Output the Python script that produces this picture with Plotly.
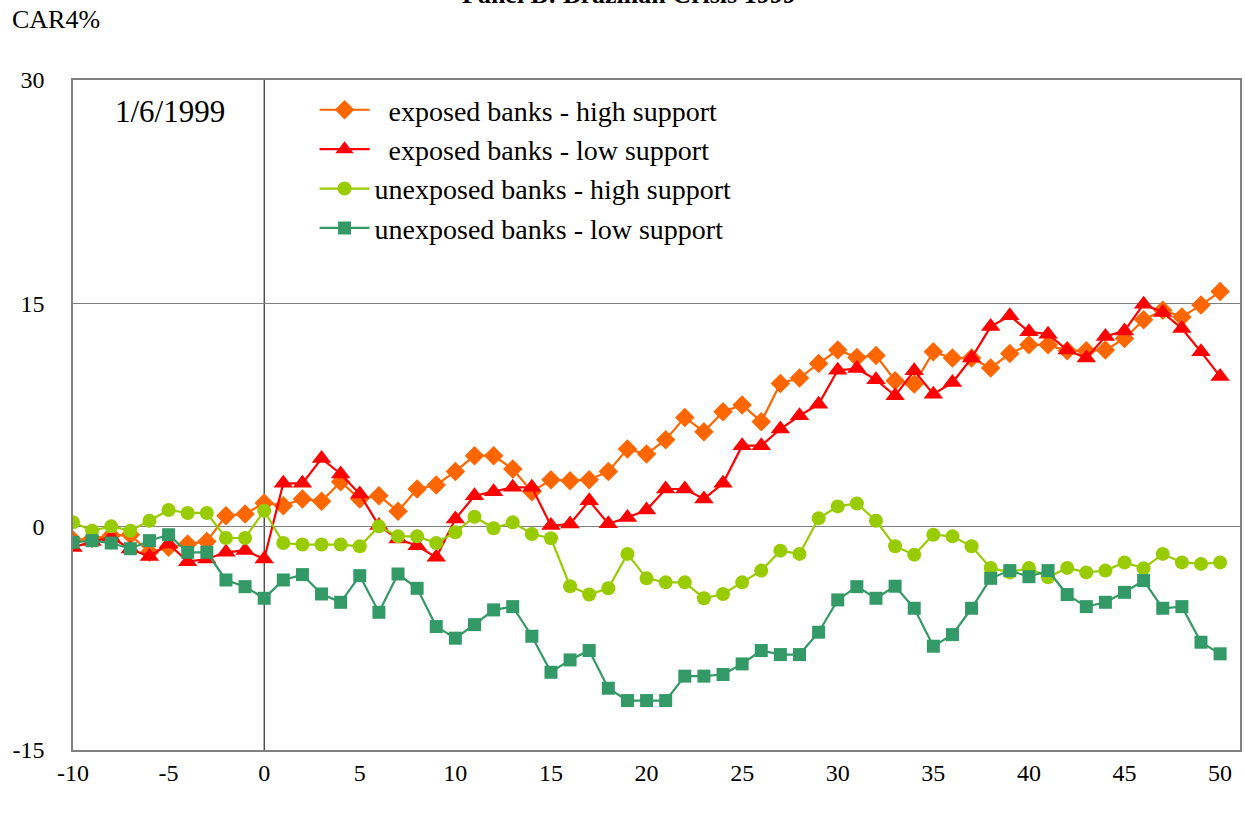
import plotly.graph_objects as go

# event days around 1/6/1999
days = list(range(-10, 51))

exposed_high = [-0.9, -0.8, -0.6, -0.55, -1.72, -1.39, -1.16, -1.0, 0.74, 0.85,
                1.59, 1.41, 1.86, 1.7, 3.02, 1.86, 2.08, 1.03, 2.53, 2.8,
                3.71, 4.77, 4.77, 3.87, 2.35, 3.15, 3.09, 3.15, 3.71, 5.21,
                4.88, 5.84, 7.34, 6.38, 7.72, 8.17, 7.05, 9.62, 9.98, 10.96,
                11.86, 11.37, 11.5, 9.8, 9.58, 11.74, 11.32, 11.32, 10.65, 11.63,
                12.21, 12.21, 11.81, 11.81, 11.86, 12.64, 13.89, 14.54, 14.09, 14.88,
                15.79]

exposed_low = [-1.4, -1.0, -0.72, -1.5, -2.0, -1.16, -2.35, -2.17, -1.72, -1.6,
               -2.17, 2.91, 2.91, 4.58, 3.54, 2.19, 0.07, -0.83, -1.28, -2.06,
               0.51, 2.08, 2.35, 2.64, 2.64, 0.07, 0.18, 1.74, 0.2, 0.62,
               1.12, 2.53, 2.53, 1.86, 2.91, 5.44, 5.44, 6.56, 7.45, 8.23,
               10.51, 10.62, 9.87, 8.79, 10.47, 8.9, 9.68, 11.32, 13.44, 14.16,
               13.09, 12.93, 11.86, 11.32, 12.77, 13.15, 14.94, 14.38, 13.31, 11.74,
               10.09]

unexposed_high = [0.29, -0.27, 0.02, -0.27, 0.4, 1.12, 0.92, 0.92, -0.76, -0.76,
                  1.07, -1.1, -1.2, -1.2, -1.2, -1.32, 0.02, -0.65, -0.65, -1.1,
                  -0.38, 0.67, -0.11, 0.29, -0.49, -0.78, -4.0, -4.56, -4.14, -1.83,
                  -3.47, -3.74, -3.74, -4.81, -4.52, -3.74, -2.95, -1.61, -1.83, 0.56,
                  1.36, 1.56, 0.4, -1.32, -1.88, -0.54, -0.65, -1.32, -2.77, -3.07,
                  -2.77, -3.4, -2.77, -3.07, -2.95, -2.4, -2.8, -1.83, -2.4, -2.5,
                  -2.4]

unexposed_low = [-1.05, -0.94, -1.1, -1.48, -0.94, -0.54, -1.72, -1.72, -3.58, -4.03,
                 -4.81, -3.58, -3.22, -4.52, -5.08, -3.29, -5.75, -3.18, -4.14, -6.71,
                 -7.49, -6.58, -5.59, -5.37, -7.36, -9.78, -8.95, -8.32, -10.85, -11.68,
                 -11.68, -11.68, -10.04, -10.04, -9.93, -9.22, -8.32, -8.59, -8.59, -7.09,
                 -4.92, -4.03, -4.81, -4.0, -5.48, -8.03, -7.25, -5.48, -3.47, -2.95,
                 -3.36, -2.95, -4.56, -5.37, -5.08, -4.41, -3.62, -5.48, -5.37, -7.76,
                 -8.54]

x_ticks = list(range(-10, 51, 5))
x_labels = [str(v) for v in x_ticks]   # plain hyphen, not unicode minus
y_ticks = [-15, 0, 15, 30]
y_labels = [str(v) for v in y_ticks]
minor_ticks = list(range(-8, 51, 2))

series = [
    ("\u00a0\u00a0exposed banks - high support", exposed_high, "#FF6600", "diamond", 15),
    ("\u00a0\u00a0exposed banks - low support", exposed_low, "#FF0000", "triangle-up", 17),
    ("unexposed banks - high support", unexposed_high, "#99CC00", "circle", 14),
    ("unexposed banks - low support", unexposed_low, "#339966", "square", 13),
]

font = "Liberation Serif"
x_range = [-10, 51.04]

fig = go.Figure()

for name, vals, col, sym, sz in series:
    fig.add_trace(
        go.Scatter(
            x=days,
            y=vals,
            mode='lines+markers',
            name=name,
            legendgroup=name,
            line=dict(color=col, width=2.2),
            marker=dict(symbol=sym, size=sz, color=col),
            )
        )

fig.add_shape(type="line", x0=0, x1=0, y0=-15, y1=30, xref="x", yref="y",
              line=dict(color="black", width=1), layer="below")

fig.add_annotation(x=-4.95, y=27.9, xref="x", yref="y", text="1/6/1999",
                   showarrow=False, font=dict(family=font, size=31, color="black"))
fig.add_annotation(x=-0.054, y=1.0896, xref="paper", yref="paper", xanchor="left", yanchor="middle",
                   text="CAR4%", showarrow=False, font=dict(family=font, size=26, color="black"))
fig.add_annotation(x=0.4765, y=1.103, xref="paper", yref="paper", yanchor="bottom",
                   text="<b>Panel B: Brazilian Crisis 1999</b>",
                   showarrow=False, font=dict(family=font, size=26, color="black"))

fig.update_layout(
    width=1245,
    height=818,
    margin=dict(l=73, r=3, t=80, b=68),
    plot_bgcolor="white",
    paper_bgcolor="white",
    font=dict(family=font, size=24, color="black"),
    showlegend=True,
    legend=dict(
        x=0.207, y=0.9925, xanchor="left", yanchor="top",
        bgcolor="rgba(0,0,0,0)",
        font=dict(family=font, size=28, color="black"),
        tracegroupgap=0,
        itemwidth=50,
        ),
    xaxis=dict(
        range=x_range,
        tickvals=x_ticks,
        ticktext=x_labels,
        ticks="",
        showgrid=False,
        zeroline=False,
        showline=True,
        mirror=True,
        linecolor="#808080",
        linewidth=1.5,
        ticklabelstandoff=0,
        ),
    xaxis2=dict(
        range=x_range,
        overlaying="x",
        anchor="free",
        position=1/3,
        side="bottom",
        tickvals=minor_ticks,
        ticks="outside",
        ticklen=8,
        tickcolor="black",
        tickwidth=1,
        showticklabels=False,
        showgrid=False,
        zeroline=False,
        showline=True,
        linecolor="#808080",
        linewidth=2.5,
        ),
    yaxis=dict(
        range=[-15, 30],
        tickvals=y_ticks,
        ticktext=y_labels,
        ticks="",
        showgrid=True,
        gridcolor="#808080",
        gridwidth=1,
        zeroline=False,
        showline=True,
        mirror=True,
        linecolor="#808080",
        linewidth=1.5,
        ticklabelstandoff=22,
        ),
    )

# drop the default page margin so the figure sits at the window's corner
fig.write_html("out.html", config={"displayModeBar": False},
               post_script="document.body.style.margin='0';")
